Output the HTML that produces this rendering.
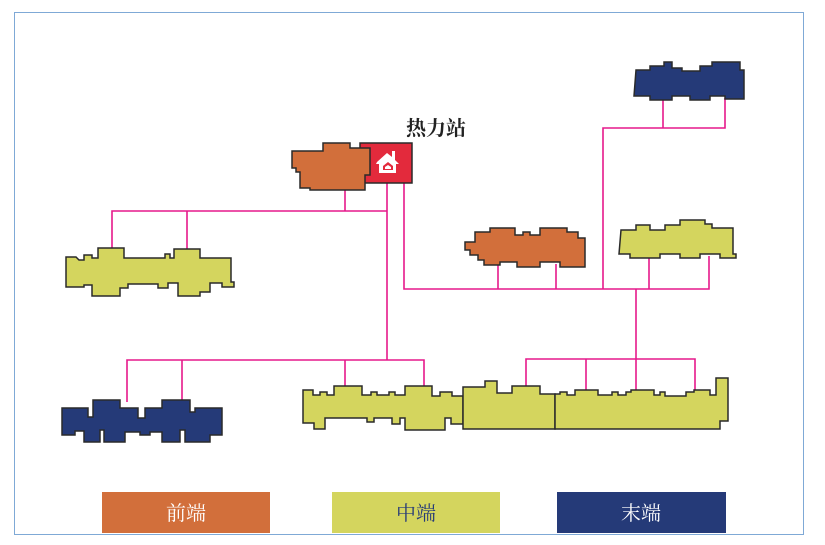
<!DOCTYPE html>
<html><head><meta charset="utf-8"><style>
html,body{margin:0;padding:0;background:#fff;width:825px;height:545px;overflow:hidden}
</style></head><body>
<svg width="825" height="545" viewBox="0 0 825 545" xmlns="http://www.w3.org/2000/svg">
<rect x="14.5" y="12.5" width="789" height="522" fill="#fff" stroke="#7fa9d6" stroke-width="1"/>
<g stroke="#e6198b" stroke-width="1.6" fill="none">
<polyline points="345,190 345,211"/>
<polyline points="112,250 112,211 387,211"/>
<line x1="187" y1="211" x2="187" y2="250"/>
<polyline points="387,183 387,360"/>
<polyline points="127,402 127,360 424,360 424,387"/>
<line x1="182" y1="360" x2="182" y2="402"/>
<line x1="345" y1="360" x2="345" y2="387"/>
<polyline points="404,183 404,289 709,289 709,256"/>
<line x1="498" y1="289" x2="498" y2="264"/>
<line x1="556" y1="289" x2="556" y2="264"/>
<line x1="649" y1="289" x2="649" y2="256"/>
<polyline points="603,289 603,128 725,128 725,98"/>
<line x1="663" y1="128" x2="663" y2="98"/>
<polyline points="636,289 636,359"/>
<polyline points="526,388 526,359 695,359 695,390"/>
<line x1="586" y1="359" x2="586" y2="392"/>
<line x1="636" y1="359" x2="636" y2="392"/>
</g>
<g stroke="#2a2a2a" stroke-width="1.5" stroke-linejoin="miter">
<polygon fill="#d4d55e" points="66,257 76,257 79,260 84,260 84,255 92,255 92,258 98,258 98,248 124,248 124,258 165,258 165,254 170,254 170,258 174,258 174,249 200,249 200,258 231,258 231,282 234,282 234,287 222,287 222,283 210,283 210,292 200,292 200,296 178,296 178,283 168,283 168,288 158,288 158,284 128,284 128,288 120,288 120,296 92,296 92,285 84,285 84,287 66,287"/>
<polygon fill="#253a78" points="62,408 88,408 88,417 93,417 93,400 120,400 120,408 138,408 138,418 145,418 145,408 162,408 162,400 190,400 190,412 195,412 195,408 222,408 222,435 210,435 210,442 185,442 185,430 180,430 180,442 162,442 162,432 150,432 150,435 140,435 140,432 125,432 125,442 104,442 104,430 100,430 100,442 84,442 84,431 75,431 75,435 62,435"/>
<polygon fill="#d4d55e" points="303,390 313,390 313,395 320,395 320,392 327,392 327,395 334,395 334,386 362,386 362,395 371,395 371,392 377,392 377,395 389,395 389,392 395,392 395,395 405,395 405,386 432,386 432,396 440,396 440,392 452,392 452,396 463,396 463,424 451,424 451,418 445,418 445,430 405,430 405,418 400,418 400,424 392,424 392,418 374,418 374,422 367,422 367,418 325,418 325,429 314,429 314,423 303,423"/>
<polygon fill="#d4d55e" points="463,387 485,387 485,381 497,381 497,393 512,393 512,386 540,386 540,394 555,394 555,429 463,429"/>
<polygon fill="#d4d55e" points="555,394 560,394 560,392 567,392 567,395 575,395 575,390 598,390 598,395 612,395 612,392 618,392 618,395 626,395 626,392 631,392 631,390 654,390 654,395 660,395 660,392 665,392 665,396 686,396 686,392 694,392 694,390 710,390 710,395 716,395 716,378 728,378 728,421 720,421 720,429 555,429"/>
<rect x="360" y="143" width="52" height="40" fill="#e32a3c"/>
<polygon fill="#d26f3b" points="292,151 323,151 323,143 350,143 350,148 370,148 370,175 365,175 365,190 310,190 310,188 300,188 300,172 296,172 296,168 292,168"/>
<polygon fill="#d26f3b" points="465,242 475,242 475,232 490,232 490,228 515,228 515,235 523,235 523,232 530,232 530,235 540,235 540,228 567,228 567,232 578,232 578,238 585,238 585,267 560,267 560,262 540,262 540,267 517,267 517,262 500,262 500,265 484,265 484,260 478,260 478,255 470,255 470,250 465,250"/>
<polygon fill="#d4d55e" points="621,230 636,230 636,225 650,225 650,230 665,230 665,225 680,225 680,220 705,220 705,224 712,224 712,228 733,228 733,254 736,254 736,258 720,258 720,254 700,254 700,258 680,258 680,254 660,254 660,258 630,258 630,254 619,254"/>
<polygon fill="#253a78" points="636,70 650,70 650,66 664,66 664,62 672,62 672,68 682,68 682,71 700,71 700,66 712,66 712,62 740,62 740,70 744,70 744,99 725,99 725,96 710,96 710,100 690,100 690,96 672,96 672,100 650,100 650,96 634,96"/>
</g>
<g fill="#fff">
<polygon points="377,162 387,153 392,157 392,151 395,151 395,160 399,164 396,164 396,173 379,173 379,164 376,164"/>
<polygon fill="#e32a3c" points="383,166 388,162 393,166 393,170 383,170"/>
<polygon points="385,167 388,165 391,167 391,169 385,169"/>
</g>
<text x="436" y="135" font-family="Liberation Serif, Noto Serif CJK SC, serif" font-size="20" font-weight="bold" text-anchor="middle" fill="#222">热力站</text>
<rect x="102" y="492" width="168" height="41" fill="#d26f3b"/>
<rect x="332" y="492" width="168" height="41" fill="#d4d55e"/>
<rect x="557" y="492" width="169" height="41" fill="#253a78"/>
<g font-family="Liberation Serif, Noto Serif CJK SC, serif" font-size="20" text-anchor="middle">
<text x="186" y="520" fill="#fff">前端</text>
<text x="416" y="520" fill="#253a78">中端</text>
<text x="641" y="520" fill="#fff">末端</text>
</g>
</svg>
</body></html>
